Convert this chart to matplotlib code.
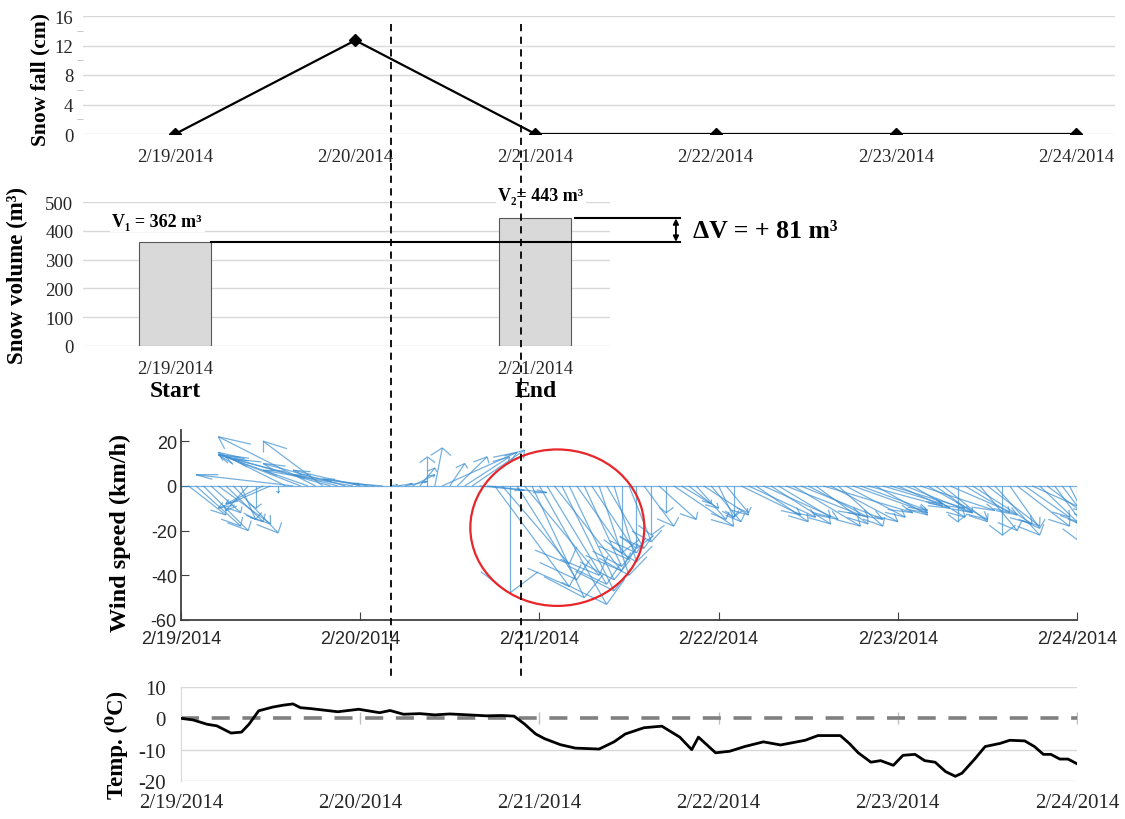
import numpy as np
import matplotlib
matplotlib.use('Agg')
import matplotlib.pyplot as plt
import matplotlib.transforms as mtransforms
from matplotlib.patches import Ellipse
from matplotlib.lines import Line2D
from matplotlib.collections import LineCollection

# daily snow fall (cm)
days = ['2/19/2014', '2/20/2014', '2/21/2014', '2/22/2014', '2/23/2014', '2/24/2014']
snowfall = [0, 12.7, 0, 0, 0, 0]

# snow volume survey (m3)
vol_pos = [0, 2]
vol_labels = ['2/19/2014', '2/21/2014']
vol_names = ['Start', 'End']
volumes = [362, 443]

# hourly wind vectors (km/h), hour 0 = 2/19/2014 00:00
wind_u = [0, 5, 6, 6, 4, 7, 5, 6, 2, -3, 0, -5, -7, 0, -9, -13, -10, -12, -13, -8,
          -15, -14, -11, -12, -9, -10, -7, -4, 1, 2, 3, 3, 2, 0, 1, 10, 2, 4, 6, 7,
          6, 8, 10, 9, 0, 8, 10, 7, 9, 8, 9, 7, 6, 7, 5, 6, 4, 5, 3, 0,
          3, 0, 4, 0, 5, 0, 8, 5, 3, 4, 6, 4, 2, 3, 0, 8, 9, 7, 10, 8,
          7, 10, 9, 11, 8, 7, 12, 9, 6, 8, 10, 9, 11, 7, 8, 10, 6, 9, 7, 10,
          8, 5, 6, 9, 0, 6, 8, 5, 7, 6, 0, 4, 7, 6, 8, 5, 6, 4, 5, 3, 0]
wind_v = [-1, -13, -18, -20, -12, -17, -16, -21, -15, -11, -10, -8, -10, -3, 15, 5, 13, 14, 22, 20,
          14, 12, 10, 7, 7, 5, 3, 1, 0.5, 1, 2, 5, 8, 13, 17, 15, 10, 13, 13, 16,
          -2, -3, -45, -35, -48, -42, -40, -50, -53, -44, -38, -47, -42, -33, -36, -30, -40, -28, -34, -30,
          -25, -28, -18, -22, -15, -12, -18, -10, -8, -15, -13, -16, -14, -12, -14, -13, -14, -16, -15, -17,
          -14, -13, -18, -15, -14, -17, -12, -16, -18, -14, -12, -11, -10, -13, -8, -10, -9, -12, -14, -11,
          -15, -12, -16, -13, -16, -12, -17, -20, -18, -22, -22, -19, -18, -14, -12, -16, -15, -18, -22, -20, -24]

# air temperature (deg C)
temp_hours = [0, 1.6, 3.5, 4.8, 6.7, 8.1, 9.1, 10.4, 12.3, 13.7, 15, 16, 17.4, 19.2, 21, 23.8,
              26.6, 28, 29.8, 32, 34, 36, 37.7, 40.9, 43, 44.6, 46, 47.5, 48.7, 50.8, 52.8, 56,
              58, 59.5, 62, 64.4, 66.8, 68.4, 69.3, 71.6, 73.5, 75.5, 78, 80.3, 83.6, 85.3,
              88.3, 89.5, 90.7, 92.4, 93.7, 95.4, 96.7, 98.3, 99.6, 101, 102.4, 103.7, 104.6,
              106.3, 107.7, 109.7, 111, 113, 114.3, 115.5, 116.5, 117.7, 118.8, 120]
temp_values = [0, -0.5, -1.9, -2.4, -4.7, -4.4, -1.9, 2.4, 3.6, 4.2, 4.6, 3.4, 3.1, 2.6, 2.1, 2.9,
               1.8, 2.5, 1.3, 1.5, 1.1, 1.4, 1.2, 0.8, 0.9, 0.7, -1.8, -5.0, -6.5, -8.4, -9.5, -9.8,
               -7.5, -5.0, -3.0, -2.5, -6.0, -10.0, -6.0, -11.0, -10.5, -9.0, -7.5, -8.5, -7.0, -5.5,
               -5.5, -8.0, -11.0, -14.0, -13.5, -15.0, -11.8, -11.5, -13.5, -14.0, -17.0, -18.5, -17.5,
               -13.0, -9.0, -8.0, -7.0, -7.2, -9.0, -11.5, -11.5, -13.0, -13.0, -14.5]

# snowfall start / end markers (hours since 2/19 00:00)
event_hours = [28.1, 45.5]

plt.rcParams['font.family'] = ['Liberation Serif', 'DejaVu Serif']
plt.rcParams['axes.unicode_minus'] = False

W, H = 1125, 820
fig = plt.figure(figsize=(W / 100, H / 100), dpi=100)


def px_axes(left, top, right, bottom):
    return fig.add_axes([left / W, 1 - bottom / H, (right - left) / W, (bottom - top) / H])


grid_c = '#d9d9d9'
txt_c = '#262626'

# ---- snow fall ----
ax1 = px_axes(83, 17, 1115, 135)
ax1.plot(range(len(days)), snowfall, color='black', lw=1.6, marker='D', ms=6)
ax1.set_xlim(-0.511, 5.216)
ax1.set_ylim(0, 16)
ax1.set_yticks([0, 4, 8, 12, 16])
ax1.set_yticks([2, 6, 10, 14], minor=True)
ax1.set_xticks(range(len(days)))
ax1.set_xticklabels(days)
ax1.grid(axis='y', color=grid_c, lw=1)
for s in ax1.spines.values():
    s.set_visible(False)
ax1.tick_params(axis='x', length=0, pad=10, labelsize=13.5, colors=txt_c)
ax1.tick_params(axis='y', which='major', length=0, pad=7, labelsize=13.5, colors=txt_c)
ax1.tick_params(axis='y', which='minor', length=4, color='#bfbfbf')
ax1.set_axisbelow(True)

# ---- snow volume ----
ax2 = px_axes(83, 203, 610, 347)
ax2.bar(vol_pos, volumes, width=0.4, color='#d9d9d9', edgecolor='#595959', lw=0.8, zorder=3)
ax2.set_xlim(-0.511, 2.414)
ax2.set_ylim(0, 500)
ax2.set_yticks(range(0, 501, 100))
ax2.set_xticks(vol_pos)
ax2.set_xticklabels(vol_labels)
ax2.grid(axis='y', color=grid_c, lw=1)
for s in ax2.spines.values():
    s.set_visible(False)
ax2.tick_params(axis='x', length=0, pad=10, labelsize=13.5, colors=txt_c)
ax2.tick_params(axis='y', length=0, pad=7, labelsize=13.5, colors=txt_c)
ax2.set_axisbelow(True)
bt = mtransforms.blended_transform_factory(ax2.transData, ax2.transAxes)
for p, name in zip(vol_pos, vol_names):
    ax2.text(p, -0.31, name, transform=bt, ha='center', va='center',
             fontsize=17, fontweight='bold', clip_on=False)
wb = dict(facecolor='white', edgecolor='none', pad=2)
ax2.text(vol_pos[0] - 0.1, 434, 'V\u2081 = %d m\u00b3' % volumes[0], ha='center', va='center',
         fontsize=13, fontweight='bold', bbox=wb, zorder=4)
ax2.text(vol_pos[1] + 0.03, 521, 'V\u2082= %d m\u00b3' % volumes[1], ha='center', va='center',
         fontsize=13, fontweight='bold', bbox=wb, zorder=4, clip_on=False)
ax2.plot([vol_pos[0] + 0.2, 2.80], [volumes[0]] * 2, color='black', lw=1.5, clip_on=False, zorder=5)
ax2.plot([vol_pos[1] + 0.22, 2.80], [volumes[1]] * 2, color='black', lw=1.5, clip_on=False, zorder=5)
ax2.annotate('', xy=(2.78, volumes[1]), xytext=(2.78, volumes[0]), annotation_clip=False,
             arrowprops=dict(arrowstyle='<|-|>', color='black', lw=1.3, mutation_scale=8,
                             shrinkA=0, shrinkB=0))
ax2.text(2.875, 400, '\u0394V = + %d m\u00b3' % (volumes[1] - volumes[0]), ha='left', va='center',
         fontsize=18.5, fontweight='bold', clip_on=False)

# ---- wind (feather plot) ----
ax3 = px_axes(181, 431, 1077, 621)
hrs = np.arange(len(wind_u))
u = np.array(wind_u, dtype=float)
v = np.array(wind_v, dtype=float)
segs = []
for h, uu, vv in zip(hrs, u, v):
    tip = (h + uu, vv)
    p1 = (h + 0.8 * uu - 0.08 * vv, 0.8 * vv + 0.08 * uu)
    p2 = (h + 0.8 * uu + 0.08 * vv, 0.8 * vv - 0.08 * uu)
    segs += [[(h, 0), tip], [tip, p1], [tip, p2]]
segs.append([(hrs[0], 0), (hrs[-1], 0)])
ax3.add_collection(LineCollection(segs, colors='#3d8fd1', linewidths=0.9, alpha=0.7))
ax3.set_xlim(0, 120)
ax3.set_ylim(-60, 25)
ax3.set_xticks(range(0, 121, 24))
ax3.set_xticklabels(days)
ax3.set_yticks([-60, -40, -20, 0, 20])
for k in ['top', 'right']:
    ax3.spines[k].set_visible(False)
for k in ['left', 'bottom']:
    ax3.spines[k].set_color('#404040')
    ax3.spines[k].set_linewidth(1.3)
ax3.tick_params(direction='in', length=6, color='#404040', labelsize=13, labelcolor=txt_c)
ax3.tick_params(axis='x', pad=7)
ax3.tick_params(axis='y', pad=3)
for lab in ax3.get_xticklabels() + ax3.get_yticklabels():
    lab.set_family(['Liberation Sans', 'DejaVu Sans'])
ax3.add_patch(Ellipse((50.4, -18.7), 23.3, 70, fill=False, ec='#e8262a', lw=1.6, clip_on=False, zorder=5))

# ---- temperature ----
ax4 = px_axes(181, 688, 1077, 782)
ax4.axhline(0, color='#808080', lw=2.6, dashes=(5, 3.5), zorder=2)
ax4.plot(range(24, 121, 24), [0] * 5, ls='none', marker='|', ms=9, mew=1, color='#bfbfbf', zorder=1)
ax4.plot(temp_hours, temp_values, color='black', lw=2, zorder=3)
ax4.set_xlim(0, 120)
ax4.set_ylim(-20, 10)
ax4.set_yticks([-20, -10, 0, 10])
ax4.set_xticks(range(0, 121, 24))
ax4.set_xticklabels(days)
for yy in [-20, -10, 10]:
    ax4.axhline(yy, color=grid_c, lw=1, zorder=0)
for k in ['top', 'right', 'bottom']:
    ax4.spines[k].set_visible(False)
ax4.spines['left'].set_color(grid_c)
ax4.tick_params(axis='x', length=0, pad=9, labelsize=15, colors=txt_c)
ax4.tick_params(axis='y', length=0, pad=11, labelsize=15, colors=txt_c)

# ---- axis titles ----
fig.text(40 / W, 1 - 80 / H, 'Snow fall (cm)', rotation=90, ha='center', va='center',
         fontsize=15.5, fontweight='bold')
fig.text(17 / W, 1 - 276 / H, 'Snow volume (m\u00b3)', rotation=90, ha='center', va='center',
         fontsize=16.5, fontweight='bold')
fig.text(120 / W, 1 - 533 / H, 'Wind speed (km/h)', rotation=90, ha='center', va='center',
         fontsize=17.5, fontweight='bold')
fig.text(117 / W, 1 - 745 / H, 'Temp. (\u2070C)', rotation=90, ha='center', va='center',
         fontsize=16.5, fontweight='bold')

# ---- dashed event lines across panels ----
et = mtransforms.blended_transform_factory(ax3.transData, fig.transFigure)
for eh in event_hours:
    fig.add_artist(Line2D([eh, eh], [1 - 25 / H, 1 - 678 / H], transform=et, color='black',
                          lw=1.3, dashes=(4, 3), zorder=10))

fig.savefig('out.png', dpi=100)
